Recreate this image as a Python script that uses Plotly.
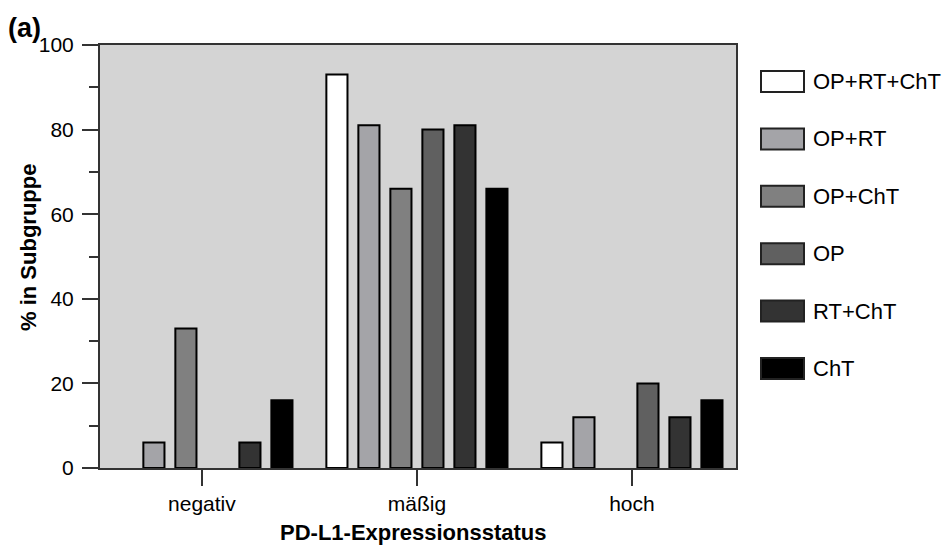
import plotly.graph_objects as go

categories = ["negativ", "mäßig", "hoch"]
series_names = ["OP+RT+ChT", "OP+RT", "OP+ChT", "OP", "RT+ChT", "ChT"]
series_values = {
    "OP+RT+ChT": [0, 93, 6],
    "OP+RT": [6, 81, 12],
    "OP+ChT": [33, 66, 0],
    "OP": [0, 80, 20],
    "RT+ChT": [6, 81, 12],
    "ChT": [16, 66, 16],
}
series_colors = ["#ffffff", "#a4a4a8", "#808080", "#606060", "#333333", "#000000"]
y_ticks = [0, 20, 40, 60, 80, 100]

FONT = "Liberation Sans, Arial, sans-serif"
W, H = 948, 546
L, R, T, B = 100, 212, 45, 78
pw, ph = W - L - R, H - T - B

fig = go.Figure()
for name, color in zip(series_names, series_colors):
    vals = series_values[name]
    fig.add_trace(go.Bar(
        x=categories, y=vals, name=name,
        marker=dict(color=color,
                    line=dict(color="#000000",
                              width=[2 if v > 0 else 0 for v in vals])),
        showlegend=False,
    ))

# manual legend (large boxes like the reference)
shapes = []
annotations = []
for i, (name, color) in enumerate(zip(series_names, series_colors)):
    cy = 81.5 + i * 57.4
    x0, x1 = 761, 804
    y0, y1 = cy - 10.5, cy + 10.5
    shapes.append(dict(
        type="rect", xref="paper", yref="paper",
        x0=(x0 - L) / pw, x1=(x1 - L) / pw,
        y0=(H - B - y1) / ph, y1=(H - B - y0) / ph,
        fillcolor=color, line=dict(color="#222222", width=2),
    ))
    annotations.append(dict(
        xref="paper", yref="paper", x=(811 - L) / pw, y=(H - B - cy) / ph,
        text=name, showarrow=False, xanchor="left", yanchor="middle",
        font=dict(family=FONT, size=22, color="#000"),
    ))

annotations.append(dict(
    xref="paper", yref="paper", x=(6 - L) / pw, y=(H - B - 28) / ph,
    text="<b>(a)</b>", showarrow=False, xanchor="left", yanchor="middle",
    font=dict(family=FONT, size=27, color="#000"),
))
annotations.append(dict(
    xref="paper", yref="paper", x=(28 - L) / pw, y=(H - B - 248) / ph,
    text="<b>% in Subgruppe</b>", showarrow=False, textangle=-90,
    xanchor="center", yanchor="middle",
    font=dict(family=FONT, size=22, color="#000"),
))
annotations.append(dict(
    xref="paper", yref="paper", x=(413 - L) / pw, y=(H - B - 532) / ph,
    text="<b>PD-L1-Expressionsstatus</b>", showarrow=False,
    xanchor="center", yanchor="middle",
    font=dict(family=FONT, size=22, color="#000"),
))

fig.update_layout(
    width=W, height=H,
    margin=dict(l=L, r=R, t=T, b=B, pad=0),
    paper_bgcolor="#ffffff", plot_bgcolor="#d4d4d4",
    barmode="group", bargap=0.107, bargroupgap=0.34,
    font=dict(family=FONT, size=21, color="#000"),
    shapes=shapes, annotations=annotations,
    xaxis=dict(
        range=[-0.474, 2.484], showgrid=False, zeroline=False,
        showline=True, linecolor="#333333", linewidth=2, mirror=True,
        ticks="outside", ticklen=16, tickwidth=2, tickcolor="#333333",
        tickfont=dict(family=FONT, size=21, color="#000"),
    ),
    yaxis=dict(
        range=[0, 100], tickvals=y_ticks, showgrid=False, zeroline=False,
        showline=True, linecolor="#333333", linewidth=2, mirror=True,
        ticks="outside", ticklen=16, tickwidth=2, tickcolor="#333333",
        ticklabelstandoff=4,
        tickfont=dict(family=FONT, size=21, color="#000"),
        minor=dict(tickvals=[10, 30, 50, 70, 90], ticks="outside",
                   ticklen=9, tickwidth=2, tickcolor="#333333", showgrid=False),
    ),
)

fig.write_html("out.html")
